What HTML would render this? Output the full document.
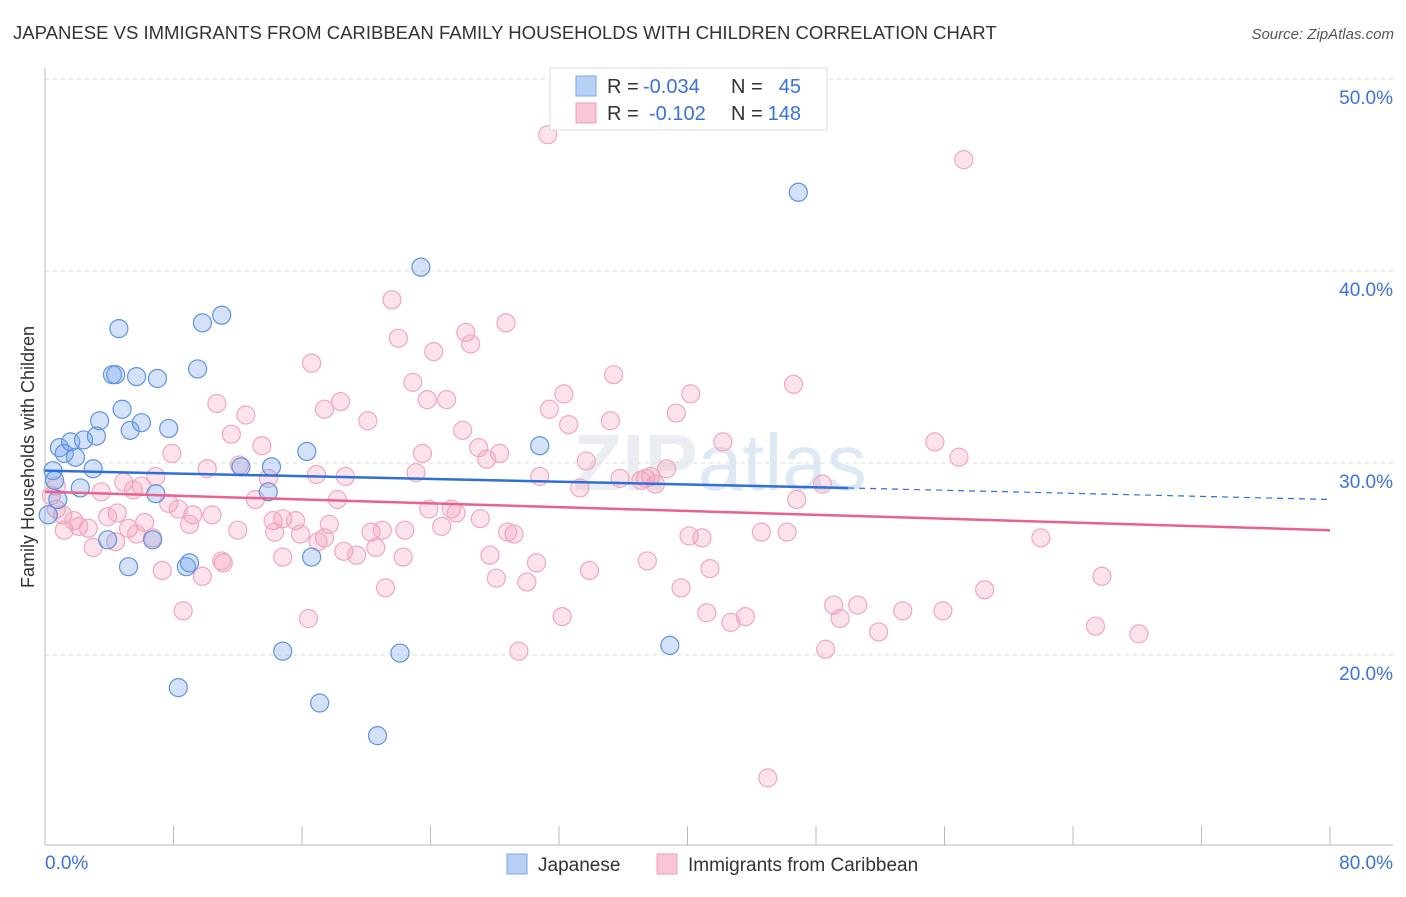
<!DOCTYPE html>
<html><head><meta charset="utf-8"><style>
body{margin:0;background:#fff;font-family:"Liberation Sans",sans-serif;}
svg text{font-family:"Liberation Sans",sans-serif;}
</style></head><body>
<svg id="chart" width="1406" height="892" viewBox="0 0 1406 892" xmlns="http://www.w3.org/2000/svg">
<text x="13" y="39" font-size="18.55" fill="#333">JAPANESE VS IMMIGRANTS FROM CARIBBEAN FAMILY HOUSEHOLDS WITH CHILDREN CORRELATION CHART</text>
<text x="1394" y="39" font-size="15" fill="#555" font-style="italic" text-anchor="end">Source: ZipAtlas.com</text>
<text transform="translate(34,457) rotate(-90)" font-size="18" fill="#333" text-anchor="middle">Family Households with Children</text>
<text x="720" y="490" font-size="80" fill="#eaedf2" text-anchor="middle" font-weight="bold">ZIP<tspan fill="#dfe8f5" font-weight="normal">atlas</tspan></text>
<g id="grid"></g><g id="axes"></g><g id="pts"></g><g id="trends"></g>
<g>
<rect x="550" y="68" width="277" height="62" fill="#fff" stroke="#ddd"/>
<rect x="576" y="76" width="20" height="20" fill="#b8d0f4" stroke="#7aa6e6"/>
<text x="607" y="93" font-size="20" fill="#333">R =</text>
<text x="643" y="93" font-size="20" fill="#3a72d8">-0.034</text>
<text x="731" y="93" font-size="20" fill="#333">N =</text>
<text x="801" y="93" font-size="20" fill="#3a72d8" text-anchor="end">45</text>
<rect x="576" y="103" width="20" height="20" fill="#f8c6d4" stroke="#eea0b8"/>
<text x="607" y="120" font-size="20" fill="#333">R =</text>
<text x="649" y="120" font-size="20" fill="#3a72d8">-0.102</text>
<text x="731" y="120" font-size="20" fill="#333">N =</text>
<text x="801" y="120" font-size="20" fill="#3a72d8" text-anchor="end">148</text>
</g>
<g>
<rect x="507" y="854" width="20" height="20" fill="#b8d0f4" stroke="#7aa6e6"/>
<text x="538" y="871" font-size="19" fill="#333">Japanese</text>
<rect x="657" y="854" width="20" height="20" fill="#f8c6d4" stroke="#eea0b8"/>
<text x="688" y="871" font-size="19" fill="#333">Immigrants from Caribbean</text>
</g>
</svg>
<script>
const xTicks=[0,10,20,30,40,50,60,70,80];
const yTicks=[20,30,40,50];
const blueX=[0.5,0.6,0.9,1.2,1.6,1.9,2.2,2.4,3.0,3.2,3.4,3.9,4.2,4.4,4.6,4.8,5.2,5.3,5.7,6.0,6.9,7.0,6.7,7.7,8.3,8.8,9.0,9.5,9.8,11.0,12.2,13.9,14.1,14.8,16.3,16.6,17.1,20.7,22.1,23.4,30.8,38.9,46.9,0.2,0.8];
const blueY=[29.6,29.1,30.8,30.5,31.1,30.3,28.7,31.2,29.7,31.4,32.2,26.0,34.6,34.6,37.0,32.8,24.6,31.7,34.5,32.1,28.4,34.4,26.0,31.8,18.3,24.6,24.8,34.9,37.3,37.7,29.8,28.5,29.8,20.2,30.6,25.1,17.5,15.8,20.1,40.2,30.9,20.5,44.1,27.3,28.1];
const pinkX=[31.3,57.2,21.6,28.7,22.0,26.2,26.5,24.2,16.6,35.4,22.9,40.2,46.6,32.3,18.4,23.8,25.0,10.7,17.4,12.5,31.4,39.3,20.1,35.2,32.6,11.6,26.0,42.2,55.4,56.9,13.5,27.0,28.3,23.5,7.9,33.7,12.1,10.1,27.5,38.7,23.1,16.9,18.7,6.9,13.9,30.8,35.8,37.4,37.7,37.1,38.0,4.9,6.0,5.5,3.5,0.7,0.4,33.3,48.4,46.8,18.2,13.1,7.7,8.3,10.4,23.9,25.3,25.6,9.2,4.5,3.9,0.7,1.1,9.0,1.8,14.8,15.6,14.2,6.2,1.2,2.1,2.7,5.2,12.0,14.3,15.9,17.7,20.3,21.0,22.4,24.7,27.1,29.2,28.8,40.1,40.9,44.6,46.2,62.0,5.7,6.7,4.4,3.0,20.6,17.4,17.0,18.6,19.4,22.3,27.7,30.6,37.5,41.4,33.9,14.8,7.3,9.8,11.1,28.1,30.0,21.2,39.6,65.8,58.5,8.6,16.4,32.2,41.2,42.7,43.6,49.1,50.6,49.5,51.9,53.4,55.9,65.4,68.1,29.5,48.6,45.0,11.0];
const pinkY=[47.1,45.8,38.5,37.3,36.5,36.8,36.2,35.8,35.2,34.6,34.2,33.6,34.1,33.6,33.2,33.3,33.3,33.1,32.8,32.5,32.8,32.6,32.2,32.2,32.0,31.5,31.7,31.1,31.1,30.3,30.9,30.8,30.5,30.5,30.5,30.1,29.9,29.7,30.2,29.7,29.5,29.4,29.3,29.3,29.2,29.3,29.2,29.2,29.3,29.1,28.9,29.0,28.8,28.6,28.5,28.8,28.3,28.7,28.9,28.1,28.1,28.1,27.9,27.6,27.3,27.6,27.6,27.4,27.3,27.4,27.2,27.6,27.3,26.8,27.0,27.1,27.0,27.0,26.9,26.5,26.7,26.6,26.6,26.5,26.4,26.3,26.8,26.4,26.5,26.5,26.7,27.1,26.3,26.4,26.2,26.1,26.4,26.4,26.1,26.3,26.1,25.9,25.6,25.6,26.1,25.9,25.4,25.2,25.1,25.2,24.8,24.9,24.5,24.4,25.1,24.4,24.1,24.8,24.0,23.8,23.5,23.5,24.1,23.4,22.3,21.9,22.0,22.2,21.7,22.0,22.6,22.6,21.9,21.2,22.3,22.3,21.5,21.1,20.2,20.3,13.6,24.9];
const blueTrend=[29.6,28.7,28.1];
const blueTrendX=[0,50,80];
const pinkTrend=[28.5,26.5];
const pinkTrendX=[0,80];

const X=v=>45+v*16.0625;
const Y=v=>79+(50-v)*19.2;
const NS="http://www.w3.org/2000/svg";
function mk(tag,attrs,parent){const e=document.createElementNS(NS,tag);for(const k in attrs)e.setAttribute(k,attrs[k]);parent.appendChild(e);return e;}
const grid=document.getElementById('grid'),axes=document.getElementById('axes'),pts=document.getElementById('pts'),tr=document.getElementById('trends');
yTicks.forEach(t=>{
 const l=mk('line',{x1:45,x2:1393,y1:Y(t),y2:Y(t),stroke:'#dddddd','stroke-dasharray':'4,4'},grid);
 
 
 const tx=mk('text',{x:1393,y:Y(t)+25,'font-size':19,fill:'#3a72d8','text-anchor':'end'},axes);
 tx.textContent=t.toFixed(1)+'%';
 
 
});
const ax=mk('line',{x1:45,x2:1393,y1:845,y2:845,stroke:'#bbb'},axes);


const ay=mk('line',{x1:45,x2:45,y1:68,y2:845,stroke:'#bbb'},axes);


for(let i=0;i<=10;i++){const v=i*8;
 const tk=mk('line',{x1:X(v),x2:X(v),y1:826,y2:845,stroke:'#bbb'},axes);
 
 
}
[[0,45,'start'],[80,1393,'end']].forEach(([v,px,a])=>{
 const tx=mk('text',{x:px,y:869,'font-size':19,fill:'#3a72d8','text-anchor':a},axes);
 tx.textContent=v.toFixed(1)+'%';
 
 
});
pinkX.forEach((x,i)=>{
 const c=mk('circle',{cx:X(x),cy:Y(pinkY[i]),r:9,fill:'rgba(244,150,180,0.28)',stroke:'#f0a8be','stroke-width':1.2},pts);
 
 
});
blueX.forEach((x,i)=>{
 const c=mk('circle',{cx:X(x),cy:Y(blueY[i]),r:9,fill:'rgba(110,160,235,0.3)',stroke:'#5f93e0','stroke-width':1.2},pts);
 
 
});
const bs=mk('line',{x1:X(blueTrendX[0]),y1:Y(blueTrend[0]),x2:X(blueTrendX[1]),y2:Y(blueTrend[1]),stroke:'#2f6fd8','stroke-width':2.5},tr);


const bd=mk('line',{x1:X(blueTrendX[1]),y1:Y(blueTrend[1]),x2:X(blueTrendX[2]),y2:Y(blueTrend[2]),stroke:'#2f6fd8','stroke-width':1.2,'stroke-dasharray':'6,5'},tr);


const ps=mk('line',{x1:X(pinkTrendX[0]),y1:Y(pinkTrend[0]),x2:X(pinkTrendX[1]),y2:Y(pinkTrend[1]),stroke:'#e8618f','stroke-width':2.5},tr);


</script>
</body></html>
